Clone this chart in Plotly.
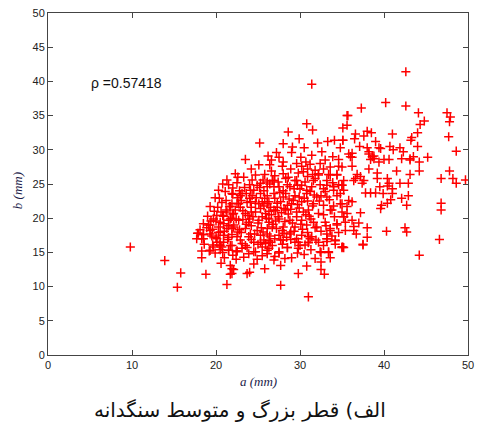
import plotly.graph_objects as go

# Aggregate diameters (a = large, b = medium), in mm, grouped by region of the cloud
sparse_low_left = [
    (9.8, 15.8), (13.9, 13.8), (15.8, 12.0), (15.4, 9.9), (17.8, 17.8), (18.3, 15.2),
    (18.3, 14.2), (19.2, 15.2), (19.9, 14.9), (18.8, 11.8), (20.6, 13.4), (21.7, 13.1),
    (22.1, 12.5), (21.7, 11.8), (21.3, 10.3), (21.5, 15.3), (22.4, 15.1), (18.5, 17.6),
    (18.3, 17.0), (17.7, 17.0), (18.5, 19.2), (18.1, 18.3), (19.3, 21.7),
]

sparse_low_mid = [
    (24.5, 13.3), (27.7, 13.1), (30.8, 13.0), (32.5, 13.6), (32.5, 12.5), (32.9, 11.8),
    (29.8, 11.9), (25.8, 12.6), (23.7, 11.9), (24.0, 12.1), (21.9, 12.6), (21.9, 11.9),
    (27.7, 10.2), (31.0, 8.5), (22.5, 15.2), (23.5, 16.0), (24.5, 15.1), (25.5, 15.8),
    (26.1, 14.8), (26.7, 16.0), (27.5, 14.9), (28.5, 15.7), (29.4, 16.5), (31.0, 16.4),
    (33.2, 16.6), (34.2, 16.2), (35.2, 15.7), (32.5, 15.0), (33.4, 15.0),
]

left_edge = [
    (22.0, 23.5), (20.7, 22.3), (22.5, 22.2), (21.7, 21.7), (21.2, 21.2), (20.1, 20.4),
    (20.8, 20.4), (22.1, 20.7), (19.7, 19.9), (20.5, 19.4), (21.7, 19.9), (19.3, 19.0),
    (18.5, 17.6), (19.3, 18.2), (20.5, 18.0), (21.3, 18.5), (22.1, 18.7), (20.1, 17.0),
    (21.5, 17.2), (20.9, 16.5), (19.7, 15.8), (20.5, 16.0), (21.9, 16.0), (20.1, 16.5),
    (20.7, 15.8), (22.5, 25.2), (20.8, 25.0),
]

upper = [
    (31.4, 39.6), (35.6, 35.0), (35.6, 33.6), (35.1, 33.2), (30.8, 33.8), (31.5, 32.9),
    (28.6, 32.6), (25.2, 31.0), (28.0, 30.9), (30.5, 30.3), (33.3, 31.2), (34.1, 31.4),
    (35.1, 31.4), (35.8, 29.4), (23.5, 28.6), (28.0, 28.2), (30.1, 28.9), (31.4, 29.2),
    (31.2, 27.9), (29.6, 28.0), (32.4, 28.0), (33.9, 29.0), (33.6, 27.5), (34.6, 27.6),
    (22.3, 26.5), (24.7, 26.3), (28.0, 26.5), (28.6, 26.0), (31.8, 27.0), (32.2, 26.3),
    (33.6, 26.3), (34.4, 26.3), (25.3, 25.1), (26.9, 25.5), (29.6, 25.5), (30.2, 24.8),
    (31.6, 25.5), (33.2, 24.8), (35.2, 25.5), (34.0, 24.1), (24.1, 24.1), (22.9, 23.3),
    (25.3, 23.6), (21.9, 23.6), (27.2, 29.6), (29.1, 30.4), (32.6, 29.7), (34.8, 30.3),
    (33.0, 28.5), (30.9, 27.2), (26.6, 28.5), (29.9, 31.6), (32.1, 31.0), (34.6, 28.6),
]

right_upper = [
    (42.6, 41.4), (40.2, 36.9), (42.6, 36.4), (37.3, 36.1), (35.7, 35.0), (35.1, 31.4),
    (44.1, 35.4), (44.3, 33.7), (44.8, 34.2), (44.0, 32.5), (43.3, 31.8), (43.2, 31.4),
    (44.0, 30.5), (41.0, 32.3), (39.0, 31.2), (38.0, 32.7), (38.5, 32.5), (36.6, 32.3),
    (36.5, 31.6), (37.6, 32.0), (37.1, 30.5), (38.0, 30.3), (39.4, 30.3), (39.6, 30.2),
    (40.7, 30.5), (41.9, 30.3), (41.1, 30.0), (42.3, 29.7), (36.2, 29.5), (36.0, 29.0),
    (38.6, 29.0), (38.2, 29.4), (38.8, 28.7), (40.0, 28.6), (40.6, 28.6), (42.1, 28.7),
    (43.1, 28.7), (43.5, 29.0), (45.2, 28.9), (47.5, 35.4), (47.9, 34.8), (47.8, 34.1),
    (47.7, 31.9), (48.6, 29.8),
]

right_lower = [
    (36.2, 28.9), (38.2, 29.7), (38.8, 29.1), (38.4, 28.6), (39.4, 28.2), (43.1, 28.5),
    (44.2, 28.2), (36.2, 27.6), (35.0, 27.5), (38.2, 27.2), (39.2, 26.6), (41.5, 26.9),
    (43.1, 26.4), (44.2, 26.9), (36.8, 26.4), (37.2, 26.1), (36.6, 25.8), (37.6, 25.5),
    (37.4, 25.1), (36.4, 25.5), (39.2, 25.8), (40.4, 25.8), (40.6, 25.1), (41.9, 25.1),
    (42.9, 25.1), (39.5, 24.6), (40.4, 24.7), (41.0, 24.3), (46.8, 25.8), (47.8, 26.9),
    (48.2, 25.8), (48.6, 25.1), (49.7, 25.6), (35.0, 24.8), (35.2, 24.1), (37.8, 23.7),
    (38.4, 23.7), (39.0, 23.7), (39.9, 23.6), (41.0, 23.6), (42.9, 23.3), (42.1, 22.9),
    (40.8, 22.7), (40.4, 22.2), (42.7, 21.9), (39.6, 21.4), (39.7, 21.9), (35.0, 22.1),
    (36.2, 22.4), (35.6, 21.7), (35.0, 20.9), (35.6, 20.7), (37.2, 20.8), (35.2, 20.2),
    (36.2, 19.7), (35.4, 19.4), (37.0, 19.3), (36.4, 18.8), (36.4, 18.2), (36.7, 17.7),
    (38.0, 18.6), (38.0, 17.2), (40.3, 18.1), (42.5, 18.6), (42.7, 18.0), (37.5, 16.1),
    (35.0, 15.8), (46.6, 16.9), (46.8, 22.2), (46.8, 21.2), (35.1, 15.8), (37.5, 16.2),
    (44.2, 14.6), (35.8, 22.6), (33.6, 21.2), (34.8, 22.1), (35.2, 20.2), (34.4, 19.0),
    (33.6, 18.2), (35.4, 18.2), (33.2, 17.0), (34.2, 16.7), (32.2, 16.5), (31.2, 17.0),
]

core = [
    (26.1, 25.3), (24.9, 24.8), (23.1, 23.6), (24.3, 23.3), (22.7, 22.1), (24.1, 22.4),
    (25.5, 22.4), (26.1, 22.1), (21.3, 20.9), (22.3, 21.2), (23.5, 20.7), (24.7, 20.9),
    (25.9, 20.7), (21.5, 19.7), (22.7, 19.7), (23.9, 19.4), (25.1, 19.7), (26.3, 19.4),
    (19.1, 19.0), (20.3, 18.7), (21.9, 18.5), (23.5, 18.5), (24.9, 18.2), (26.1, 18.5),
    (17.9, 17.8), (19.3, 17.7), (20.9, 17.5), (22.5, 17.3), (23.9, 17.3), (25.3, 17.5),
    (18.5, 17.0), (20.5, 16.5), (21.7, 16.0), (23.1, 16.3), (24.5, 16.5), (25.9, 16.3),
    (19.3, 15.3), (20.5, 15.4), (21.5, 15.3), (22.5, 15.2), (24.7, 15.1), (26.1, 15.3),
    (30.4, 26.8), (32.2, 26.5), (33.4, 26.4), (34.4, 26.4), (26.7, 25.5), (28.3, 25.8),
    (29.4, 25.5), (30.6, 25.3), (31.8, 25.8), (33.2, 25.5), (35.0, 24.8), (26.1, 24.6),
    (27.5, 24.6), (28.8, 24.6), (30.0, 24.3), (31.4, 24.6), (32.8, 24.3), (34.0, 24.6),
    (26.9, 23.6), (28.3, 23.6), (29.4, 23.3), (30.8, 23.6), (32.0, 23.1), (33.2, 23.1),
    (34.4, 23.3), (26.3, 22.4), (27.7, 22.4), (29.0, 22.1), (30.2, 22.4), (31.6, 22.1),
    (32.8, 21.9), (33.8, 21.2), (26.9, 21.2), (28.3, 21.2), (29.6, 20.9), (31.0, 21.2),
    (32.2, 20.7), (26.3, 19.9), (27.5, 19.9), (28.8, 19.7), (30.2, 19.7), (31.6, 19.4),
    (33.0, 19.4), (34.4, 19.2), (26.7, 18.7), (28.0, 18.7), (29.4, 18.7), (30.8, 19.0),
    (32.0, 18.7), (33.6, 18.5), (26.1, 17.7), (27.5, 17.5), (28.8, 17.7), (30.2, 17.5),
    (31.4, 17.3), (33.2, 17.7), (26.5, 16.5), (28.0, 16.8), (29.8, 16.5), (31.0, 16.5),
    (33.2, 17.0), (34.2, 16.8), (26.3, 15.6), (27.5, 15.1), (28.5, 15.7), (29.8, 15.6),
    (32.4, 15.1), (33.4, 15.1), (35.0, 15.7),
]

core_fill = [
    (21.0, 18.1), (22.1, 19.0), (23.0, 17.9), (24.2, 18.9), (25.6, 18.0), (26.8, 19.1),
    (27.9, 18.2), (29.1, 19.3), (30.3, 18.4), (31.3, 19.9), (20.6, 20.9), (21.8, 20.0),
    (23.2, 21.1), (24.4, 20.2), (25.3, 21.4), (26.6, 20.5), (27.3, 21.6), (28.6, 20.6),
    (29.9, 21.5), (31.1, 20.3), (21.2, 22.6), (22.6, 23.0), (23.7, 22.3), (24.8, 23.0),
    (25.8, 22.9), (27.0, 22.9), (28.0, 23.1), (29.2, 22.6), (30.5, 22.9), (32.3, 22.5),
    (22.0, 24.4), (23.4, 24.5), (24.5, 24.1), (25.7, 24.0), (26.9, 24.6), (28.0, 24.0),
    (29.3, 24.3), (30.8, 24.1), (33.0, 23.9), (34.8, 23.6), (20.0, 17.2), (21.4, 16.9),
    (22.9, 16.8), (24.2, 16.9), (25.7, 16.8), (27.0, 17.0), (28.4, 17.2), (29.6, 17.0),
    (30.9, 17.9), (32.5, 18.1), (19.6, 18.4), (20.9, 19.2), (22.4, 19.9), (23.8, 20.4),
    (25.0, 19.3), (26.0, 20.0), (27.4, 20.2), (28.2, 19.5), (29.6, 20.2), (30.7, 20.5),
    (19.0, 20.3), (20.2, 21.6), (21.6, 21.7), (23.0, 22.6), (24.2, 21.6), (25.7, 21.8),
    (27.1, 21.1), (28.5, 21.9), (29.9, 23.1), (31.7, 23.4), (23.3, 26.0), (25.6, 25.6),
    (26.6, 26.9), (27.4, 25.3), (29.8, 26.6), (30.9, 26.1), (26.4, 27.8), (24.2, 27.2),
    (27.5, 28.9), (29.0, 29.6), (18.6, 16.2), (19.6, 16.1), (20.8, 15.0), (22.0, 14.6),
    (23.3, 14.3), (24.9, 14.0), (26.9, 13.9), (29.0, 14.2), (30.5, 14.7), (31.8, 14.1),
    (24.0, 19.9), (26.3, 21.0), (28.9, 18.0), (22.6, 18.0), (30.0, 16.0), (25.0, 16.2),
    (23.7, 15.7), (27.9, 16.2), (21.1, 23.9), (19.9, 23.0),
]

core_dense = [
    (20.3, 17.9), (21.5, 18.9), (22.8, 18.3), (23.6, 19.1), (24.6, 17.7), (25.4, 18.6),
    (26.4, 17.4), (27.2, 18.5), (28.1, 17.8), (29.3, 18.1), (30.1, 19.1), (31.8, 18.6),
    (20.0, 19.6), (20.9, 20.3), (22.0, 20.6), (23.2, 19.8), (24.2, 20.9), (25.5, 20.2),
    (26.5, 21.6), (27.8, 20.8), (28.9, 21.3), (30.4, 20.9), (31.5, 21.8), (32.8, 20.5),
    (20.4, 22.9), (21.9, 22.1), (22.9, 21.6), (24.0, 22.9), (25.1, 22.1), (26.1, 23.3),
    (27.3, 22.2), (28.7, 22.8), (29.7, 22.0), (30.9, 22.5), (32.5, 23.3), (33.5, 22.7),
    (21.5, 24.9), (22.8, 24.0), (24.0, 24.9), (25.2, 24.5), (26.4, 25.0), (27.6, 23.8),
    (28.5, 24.9), (29.7, 24.8), (31.2, 23.9), (32.4, 24.9), (33.9, 25.2), (34.6, 24.9),
    (22.6, 26.0), (24.3, 25.6), (25.8, 26.4), (27.0, 26.2), (28.9, 27.2), (30.2, 27.6),
    (31.5, 26.4), (32.8, 27.2), (25.1, 27.8), (27.9, 27.6), (30.7, 28.2), (26.2, 29.1),
    (20.4, 16.1), (21.9, 17.6), (23.1, 15.6), (24.1, 17.7), (25.3, 16.5), (26.3, 16.7),
    (27.7, 16.8), (28.9, 16.9), (30.6, 16.1), (31.9, 16.8), (32.8, 16.0), (33.8, 17.4),
    (19.5, 17.4), (21.0, 14.2), (22.4, 14.0), (23.9, 14.8), (25.5, 14.5), (27.0, 14.4),
    (28.2, 14.1), (29.7, 14.9), (31.3, 15.4), (33.6, 14.2), (34.6, 17.9), (34.1, 20.2),
    (19.4, 19.6), (19.8, 21.0), (18.9, 18.6), (20.3, 24.1), (21.3, 25.6), (34.0, 21.8),
    (33.1, 18.9), (31.0, 17.3), (24.7, 22.2), (23.6, 23.6), (27.1, 19.6), (28.1, 21.4),
]

groups = [sparse_low_left, sparse_low_mid, left_edge, upper, right_upper,
          right_lower, core, core_fill, core_dense]
a_mm = [p[0] for g in groups for p in g]
b_mm = [p[1] for g in groups for p in g]

x_ticks = [0, 10, 20, 30, 40, 50]
y_ticks = [0, 5, 10, 15, 20, 25, 30, 35, 40, 45, 50]
rho_text = "ρ =0.57418"
caption = "الف) قطر بزرگ و متوسط سنگدانه"

fig = go.Figure()
fig.add_trace(go.Scatter(
    x=a_mm, y=b_mm, mode="markers",
    marker=dict(symbol="cross-thin", size=6.5, color="red",
                line=dict(color="red", width=1.5)),
    showlegend=False, hoverinfo="skip",
))

axis_common = dict(
    showline=True, linecolor="#444", linewidth=1, mirror="ticks",
    ticks="inside", ticklen=5, tickcolor="#444", tickwidth=1,
    showgrid=False, zeroline=False, automargin=False,
    tickfont=dict(family="Liberation Sans, Arial", size=11, color="#222"),
)

fig.update_xaxes(range=[0, 50], tickvals=x_ticks, **axis_common)
fig.update_yaxes(range=[0, 50], tickvals=y_ticks, **axis_common)

fig.add_annotation(x=4.9, y=39.8, xref="x", yref="y", text=rho_text,
                   showarrow=False, xanchor="left", yanchor="middle",
                   font=dict(family="Liberation Sans, Arial", size=14, color="#111"))
fig.add_annotation(x=0.5, y=-0.077, xref="paper", yref="paper",
                   text="<i>a (mm)</i>", showarrow=False,
                   xanchor="center", yanchor="middle",
                   font=dict(family="Liberation Serif, Times New Roman", size=13, color="#1c1c4a"))
fig.add_annotation(x=-0.073, y=0.48, xref="paper", yref="paper",
                   text="<i>b (mm)</i>", showarrow=False, textangle=-90,
                   xanchor="center", yanchor="middle",
                   font=dict(family="Liberation Serif, Times New Roman", size=13, color="#1c1c4a"))
fig.add_annotation(x=0.458, y=-0.162, xref="paper", yref="paper",
                   text=caption, showarrow=False,
                   xanchor="center", yanchor="middle",
                   font=dict(family="DejaVu Sans, Noto Sans", size=20, color="#111"))

fig.update_layout(
    width=477, height=425,
    margin=dict(l=48, r=9, t=13, b=70),
    plot_bgcolor="white", paper_bgcolor="white",
)

fig.write_html("out.html")
